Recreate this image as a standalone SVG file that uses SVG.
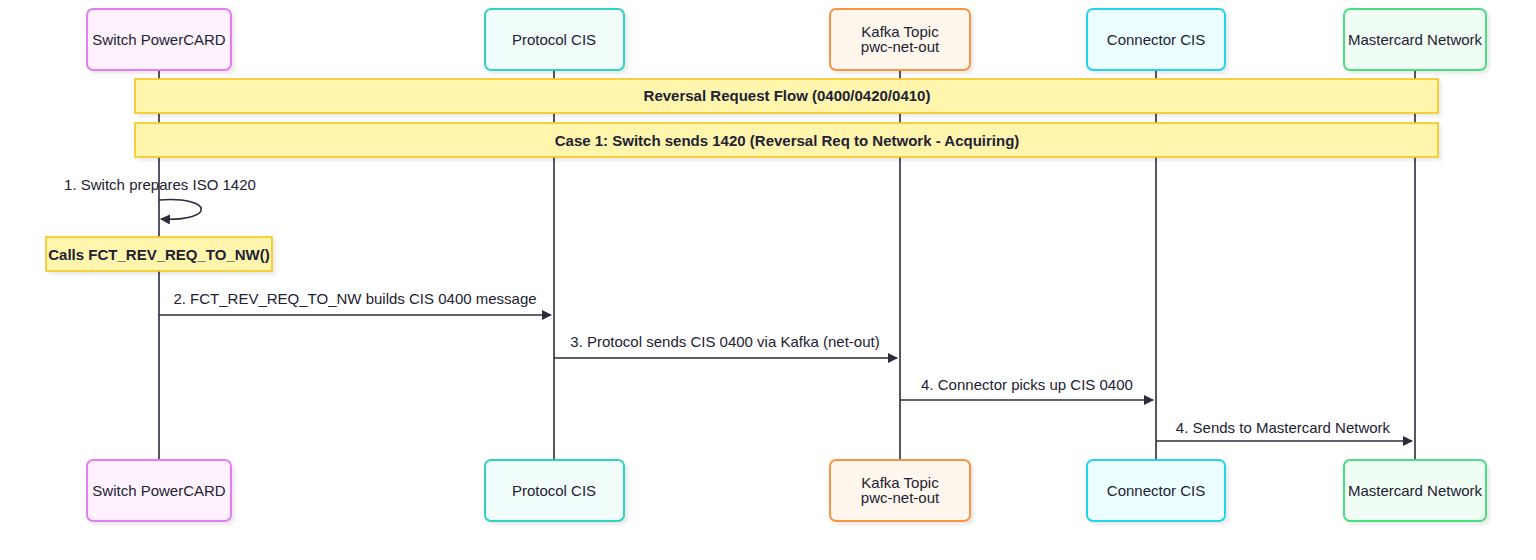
<svg xmlns="http://www.w3.org/2000/svg" width="1536" height="560" viewBox="0 0 1536 560">
<defs>
<marker id="arr" viewBox="0 0 10 10" refX="9" refY="5" markerWidth="10" markerHeight="10" orient="auto-start-reverse" markerUnits="userSpaceOnUse"><path d="M0,0 L10,5 L0,10 z" fill="#2b2b3b"/></marker>
<filter id="sh" x="-10%" y="-10%" width="130%" height="140%"><feDropShadow dx="3" dy="3" stdDeviation="1.5" flood-color="#000" flood-opacity="0.08"/></filter>
</defs>
<style>
text{font-family:"Liberation Sans",Arial,sans-serif;font-size:15px;fill:#222233;}
.actor{stroke-width:2;filter:url(#sh);}
.life{stroke:#2b2b3b;stroke-width:1.6;}
.note{fill:#fff5ad;stroke:#f5c518;stroke-width:1.6;filter:url(#sh);}
.nt{font-weight:bold;}
.msg{stroke:#2b2b3b;stroke-width:1.6;fill:none;}
.c{text-anchor:middle;}
</style>
<rect width="1536" height="560" fill="#ffffff"/>
<g id="lifelines">
<line class="life" x1="159" y1="70" x2="159" y2="460"/>
<line class="life" x1="554" y1="70" x2="554" y2="460"/>
<line class="life" x1="900" y1="70" x2="900" y2="460"/>
<line class="life" x1="1156" y1="70" x2="1156" y2="460"/>
<line class="life" x1="1415" y1="70" x2="1415" y2="460"/>
</g>
<g id="switch-top"><rect class="actor" x="87" y="9" width="144" height="61" rx="6" fill="#fdf2fd" stroke="#e879f9"/><text class="c" x="159" y="45">Switch PowerCARD</text></g>
<g id="protocol-top"><rect class="actor" x="485" y="9" width="139" height="61" rx="6" fill="#f0fdfa" stroke="#2dd4bf"/><text class="c" x="554" y="45">Protocol CIS</text></g>
<g id="kafka-top"><rect class="actor" x="830" y="9" width="140" height="61" rx="6" fill="#fff7ed" stroke="#fb923c"/><text class="c" x="900" y="37">Kafka Topic</text><text class="c" x="900" y="52">pwc-net-out</text></g>
<g id="connector-top"><rect class="actor" x="1087" y="9" width="138" height="61" rx="6" fill="#ecfeff" stroke="#22d3ee"/><text class="c" x="1156" y="45">Connector CIS</text></g>
<g id="mastercard-top"><rect class="actor" x="1344" y="9" width="142" height="61" rx="6" fill="#f0fdf4" stroke="#4ade80"/><text class="c" x="1415" y="45">Mastercard Network</text></g>
<g id="switch-bottom"><rect class="actor" x="87" y="460" width="144" height="61" rx="6" fill="#fdf2fd" stroke="#e879f9"/><text class="c" x="159" y="496">Switch PowerCARD</text></g>
<g id="protocol-bottom"><rect class="actor" x="485" y="460" width="139" height="61" rx="6" fill="#f0fdfa" stroke="#2dd4bf"/><text class="c" x="554" y="496">Protocol CIS</text></g>
<g id="kafka-bottom"><rect class="actor" x="830" y="460" width="140" height="61" rx="6" fill="#fff7ed" stroke="#fb923c"/><text class="c" x="900" y="488">Kafka Topic</text><text class="c" x="900" y="503">pwc-net-out</text></g>
<g id="connector-bottom"><rect class="actor" x="1087" y="460" width="138" height="61" rx="6" fill="#ecfeff" stroke="#22d3ee"/><text class="c" x="1156" y="496">Connector CIS</text></g>
<g id="mastercard-bottom"><rect class="actor" x="1344" y="460" width="142" height="61" rx="6" fill="#f0fdf4" stroke="#4ade80"/><text class="c" x="1415" y="496">Mastercard Network</text></g>
<g id="note-flow"><rect class="note" x="135" y="79" width="1303" height="34"/><text class="c nt" x="787" y="101">Reversal Request Flow (0400/0420/0410)</text></g>
<g id="note-case1"><rect class="note" x="135" y="123" width="1303" height="34"/><text class="c nt" x="787" y="146">Case 1: Switch sends 1420 (Reversal Req to Network - Acquiring)</text></g>
<g id="note-calls"><rect class="note" x="46" y="237" width="226" height="34"/><text class="c nt" x="159" y="260">Calls FCT_REV_REQ_TO_NW()</text></g>
<g id="connectors">
<path class="msg" d="M159,200 C215,196 215,222 161,219" marker-end="url(#arr)"/>
<text class="c" x="160" y="190">1. Switch prepares ISO 1420</text>
<line class="msg" x1="159" y1="315" x2="551" y2="315" marker-end="url(#arr)"/>
<text class="c" x="355" y="304">2. FCT_REV_REQ_TO_NW builds CIS 0400 message</text>
<line class="msg" x1="554" y1="358" x2="897" y2="358" marker-end="url(#arr)"/>
<text class="c" x="725" y="347">3. Protocol sends CIS 0400 via Kafka (net-out)</text>
<line class="msg" x1="900" y1="400" x2="1153" y2="400" marker-end="url(#arr)"/>
<text class="c" x="1027" y="390">4. Connector picks up CIS 0400</text>
<line class="msg" x1="1156" y1="441" x2="1412" y2="441" marker-end="url(#arr)"/>
<text class="c" x="1283" y="433">4. Sends to Mastercard Network</text>
</g>
</svg>
